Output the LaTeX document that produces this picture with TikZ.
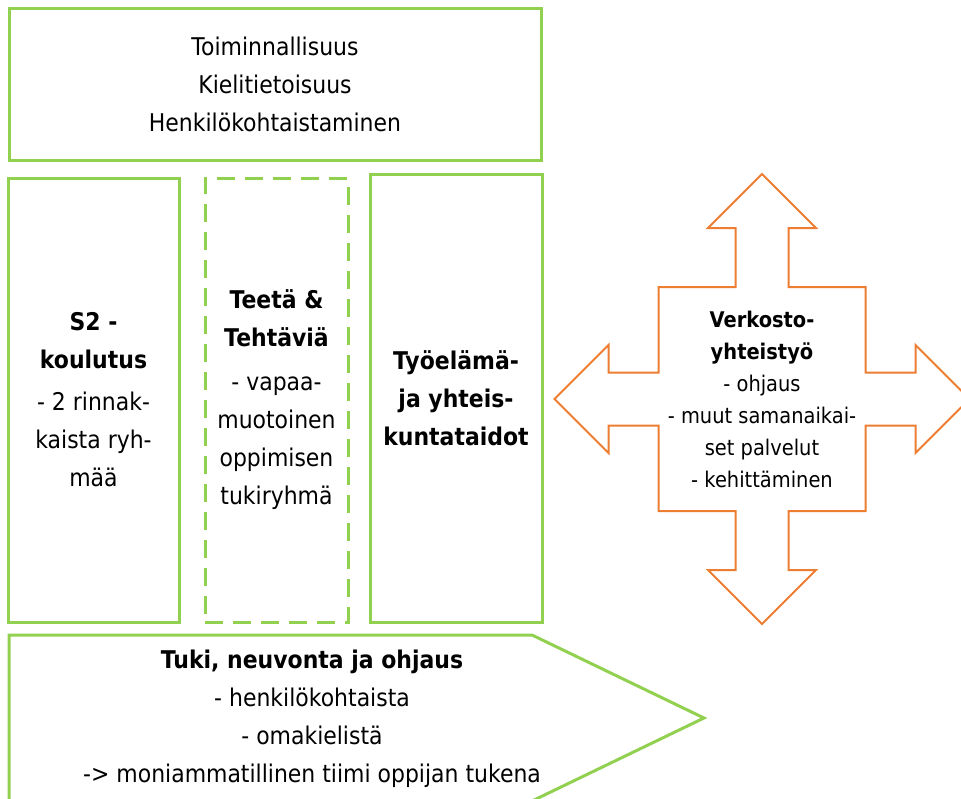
\documentclass[tikz,border=0pt]{standalone}
\usepackage{fontspec}
\setmainfont{DejaVu Sans}[FakeStretch=0.9]
\usetikzlibrary{shapes.arrows}
\definecolor{lightgreen}{HTML}{92D050}
\definecolor{lineorange}{HTML}{ED7D31}

\begin{document}
\begin{tikzpicture}[x=1pt,y=-1pt,
    box/.style={draw=lightgreen,line width=3pt,inner sep=0pt,align=center,
      font=\fontsize{24.4}{38}\selectfont},
    smalltxt/.style={align=center,font=\fontsize{21.6}{32}\selectfont}]
  \clip (0,0) rectangle (961,798);
  % top row
  \node [box,minimum width=532pt,minimum height=152pt] (principles) at (275,84)
    {Toiminnallisuus\\Kielitietoisuus\\Henkilökohtaistaminen};
  % three columns
  \node [box,minimum width=171pt,minimum height=444pt] (stwo) at (93.5,400)
    {\textbf{S2 -}\\\textbf{koulutus}\\[4pt]- 2 rinnak-\\kaista ryh-\\mää};
  \node [box,dash pattern=on 18pt off 10pt,minimum width=143pt,minimum height=444pt] (teeta) at (276.5,400)
    {\textbf{Teetä \&}\\\textbf{Tehtäviä}\\[6pt]- vapaa-\\muotoinen\\oppimisen\\tukiryhmä};
  \node [box,minimum width=172pt,minimum height=448pt] (tyoelama) at (456,398)
    {\textbf{Työelämä-}\\\textbf{ja yhteis-}\\\textbf{kuntataidot}};
  % network arrows
  \node [draw=lineorange,line width=2pt,arrow box,inner sep=0pt,
    minimum width=207pt,minimum height=224pt,
    arrow box shaft width=53pt,arrow box head extend=27.5pt,arrow box tip angle=90,
    arrow box arrows={north:112pt,south:112pt,west:103pt,east:103pt},
    smalltxt] (verkosto) at (762,399)
    {\textbf{Verkosto-}\\\textbf{yhteistyö}\\- ohjaus\\- muut samanaikai-\\set palvelut\\- kehittäminen};
  % bottom pointer
  \draw [lightgreen,line width=3pt] (9,635) -- (532,635) -- (704,718) -- (532,801) -- (9,801) -- cycle;
  \node [align=center,font=\fontsize{24.4}{38}\selectfont] (tuki) at (312,719)
    {\textbf{Tuki, neuvonta ja ohjaus}\\- henkilökohtaista\\- omakielistä\\-> moniammatillinen tiimi oppijan tukena};
\end{tikzpicture}
\end{document}
